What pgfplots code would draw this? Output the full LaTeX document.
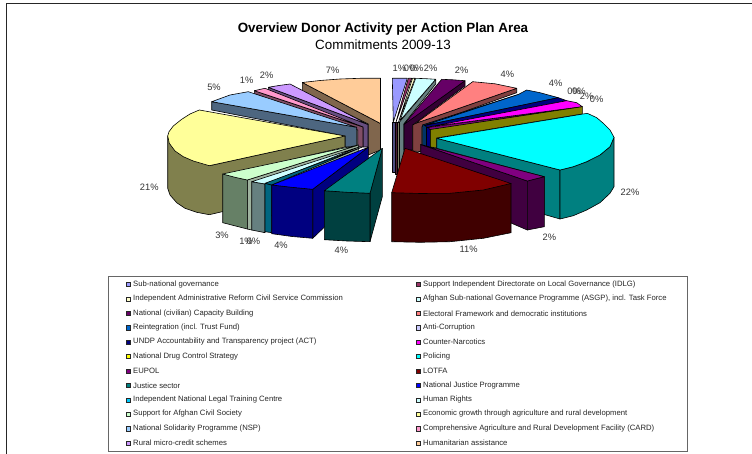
\documentclass[border=0pt]{standalone}
\usepackage{pgfplots}
\usepackage{fontspec}
\setmainfont{Liberation Sans}
\pgfplotsset{compat=1.18}
\definecolor{c1}{HTML}{9999FF}\definecolor{c1s}{HTML}{4D4D80}
\definecolor{c2}{HTML}{993366}\definecolor{c2s}{HTML}{4D1A33}
\definecolor{c3}{HTML}{FFFFCC}\definecolor{c3s}{HTML}{808066}
\definecolor{c4}{HTML}{CCFFFF}\definecolor{c4s}{HTML}{668080}
\definecolor{c5}{HTML}{660066}\definecolor{c5s}{HTML}{330033}
\definecolor{c6}{HTML}{FF8080}\definecolor{c6s}{HTML}{804040}
\definecolor{c7}{HTML}{0066CC}\definecolor{c7s}{HTML}{003366}
\definecolor{c8}{HTML}{CCCCFF}
\definecolor{c9}{HTML}{000080}
\definecolor{c10}{HTML}{FF00FF}\definecolor{c10s}{HTML}{800080}
\definecolor{c11}{HTML}{FFFF00}\definecolor{c11s}{HTML}{808000}
\definecolor{c12}{HTML}{00FFFF}\definecolor{c12s}{HTML}{008080}
\definecolor{c13}{HTML}{800080}\definecolor{c13s}{HTML}{400040}
\definecolor{c14}{HTML}{800000}\definecolor{c14s}{HTML}{400000}
\definecolor{c15}{HTML}{008080}\definecolor{c15s}{HTML}{004040}
\definecolor{c16}{HTML}{0000FF}\definecolor{c16s}{HTML}{000080}
\definecolor{c17}{HTML}{00CCFF}\definecolor{c17s}{HTML}{006680}
\definecolor{c18}{HTML}{CCFFFF}\definecolor{c18s}{HTML}{668080}
\definecolor{c19}{HTML}{CCFFCC}\definecolor{c19s}{HTML}{668066}\definecolor{c19c}{HTML}{9FB39F}
\definecolor{c20}{HTML}{FFFF99}\definecolor{c20s}{HTML}{80804D}
\definecolor{c21}{HTML}{99CCFF}\definecolor{c21s}{HTML}{4D6680}
\definecolor{c22}{HTML}{FF99CC}\definecolor{c22s}{HTML}{804D66}
\definecolor{c23}{HTML}{CC99FF}\definecolor{c23s}{HTML}{664D80}
\definecolor{hsb24}{HTML}{FFCC99}\definecolor{hsb24s}{HTML}{80664D}
\newcommand{\pg}[2]{\addplot[fill=#1,draw=black,line width=0.6pt,line join=round,forget plot] coordinates {#2} --cycle;}
\newcommand{\lab}[3]{\node[font=\fontsize{9.3}{10}\selectfont,text=black!80,inner sep=0pt] at (axis cs:#1,#2) {#3\%};}
\newcommand{\leg}[5]{\addplot[only marks,mark=square*,mark size=2.2pt,mark options={fill=#4,draw=black!85,line width=0.5pt},forget plot] coordinates {(#1,#2)};
\node[anchor=west,font=\fontsize{7.7}{8}\selectfont,text=black!85,inner sep=0pt] at (axis cs:#3,#2) {#5};}
\begin{document}
\begin{tikzpicture}
\begin{axis}[scale only axis,width=752pt,height=454pt,xmin=0,xmax=752,ymin=0,ymax=454,y dir=reverse,hide axis,clip=true]
% page and frame
\addplot[fill=white,draw=none,forget plot] coordinates {(0,0)(752,0)(752,454)(0,454)} --cycle;
\addplot[draw=black!85,line width=1.2pt,forget plot] coordinates {(6.5,454)(6.5,3.5)(752,3.5)};
\addplot[fill=white,draw=black!60,line width=1pt,forget plot] coordinates {(108,277)(687,277)(687,451)(108,451)} --cycle;
% 24 Humanitarian
\pg{hsb24s}{(302.3,82.5)(302.3,91)(368.3,124)(368.3,155)(380.5,150)(380.5,123.5)}
\pg{hsb24}{(302.3,82.5)(320,80.5)(340,79)(360,78.3)(380.5,78.3)(380.5,123.5)}
% 23 Rural micro-credit
\pg{c23s}{(268.3,87.3)(268.3,90)(363,128)(363,147)(368,147)(368,124.5)}
\pg{c23}{(268.3,87.3)(279,85.5)(290,84)(368,124.5)}
% 22 CARD
\pg{c22s}{(254.3,90.7)(254.3,94)(357.7,130)(357.7,147)(363,147)(363,127)}
\pg{c22}{(254.3,90.7)(265,88.3)(363,127)}
% 21 NSP
\pg{c21s}{(211.7,101.7)(211.7,110)(345,136)(345,147)(356.7,147)(356.7,127.3)}
\pg{c21}{(211.7,101.7)(230,95)(248.3,91.7)(356.7,127.3)}
% 20 Economic growth
\pg{c20s}{(167.7,136)(167.7,188.3)(170,195)(176.7,202.7)(185,208.3)(196.7,212.3)(209.3,214.7)(225.3,211)(225.3,175)(345,147)(345,136)(209.3,165.7)}
\pg{c20}{(199.3,110)(190,114)(181.7,119.3)(173.3,126)(169,131.7)(167.7,136)(169.3,143.3)(175,151)(183.3,156.7)(193.3,161)(209.3,165.7)(345,136)}
% 1 Sub-national governance
\pg{c1s}{(392.3,122)(392.3,172)(395,172)(395,122)}
\pg{c1}{(392.3,78.3)(407.3,78.3)(393.3,122)}
% 2 IDLG
\pg{c2s}{(395,122)(395,174)(397,174)(397,122)}
\pg{c2}{(408.3,78.3)(411.7,78.3)(396,122)}
% 3 Admin reform
\pg{c3s}{(397,122)(397,174)(399.5,174)(399.5,122)}
\pg{c3}{(412.5,78.3)(415,78.3)(398.5,122)}
% 4 ASGP
\pg{c4s}{(435.7,79.3)(435.7,84)(403.8,124)(403.8,175)(399.5,175)(399.5,122)}
\pg{c4}{(415.7,78.3)(426,78.7)(435.7,79.3)(400,120.5)}
% 5 Capacity
\pg{c5s}{(465,80.7)(465,86)(412.7,125)(412.7,150)(404,150)(404,124)}
\pg{c5}{(441.7,79.3)(453,79.8)(465,80.7)(404,124.5)}
% 6 Electoral
\pg{c6s}{(516.7,88.3)(516.7,92.7)(421.7,126.7)(421.7,151.7)(412.7,151)(412.7,125)(415.7,123.3)}
\pg{c6}{(472.7,81.7)(495,83.8)(516.7,88.3)(415.7,123.3)}
% 7 Reintegration
\pg{c7s}{(518.3,94.5)(422.3,125)(422.3,147)(426.7,147)(426.7,127)}
\pg{c7}{(518.3,94.5)(526.7,90)(540,92.7)(558.3,97.7)(424,125.5)}
% 8,9 Anti-corruption, UNDP ACT
\pg{c9}{(425,125.5)(558.3,97.7)(566.7,100.7)(427,127.5)}
\pg{c9}{(426.7,127)(426.7,147)(430.3,147)(430.3,127)}
% 10 Counter-narcotics
\pg{c10s}{(428,127.5)(582.3,106.7)(430.3,130)}
\pg{c10}{(428,127)(566.7,100.7)(576.7,102.7)(582.3,106.7)}
% 11 Drug control
\pg{c11s}{(430.3,129.5)(582.3,106.7)(582.3,114)(436.7,138)(436.7,148)(430.3,147)}
% 12 Policing
\pg{c12s}{(436.7,138.3)(436.7,148.3)(544.3,176.7)(544.3,214.5)(560,219)(560,170)}
\pg{c12s}{(560,170)(560,219)(573.3,215.7)(586.7,210)(600,202.7)(610,193.3)(614,186.7)(614,137.3)(610,146.7)(600,155)(586.7,161.7)(573.3,166.7)}
\pg{c12}{(436.7,138.3)(587.3,113.3)(596.7,117.7)(603.3,123.3)(610,130)(614,137.3)(610,146.7)(600,155)(586.7,161.7)(573.3,166.7)(560,170)}
% 13 EUPOL
\pg{c13s}{(420.7,144.5)(527.3,181)(527.3,230)(511,223)(420.7,190)}
\pg{c13s}{(527.3,181)(544.3,176.7)(544.3,226.7)(527.3,230)}
\pg{c13}{(420.7,144.5)(544.3,176.7)(527.3,181)}
% 14 LOTFA
\pg{c14s}{(391.7,192.7)(391.7,241.7)(420,242.3)(450,241.7)(483.3,238.3)(511,232.7)(511,183.5)}
\pg{c14}{(391.7,192.7)(420,193.5)(450,193.3)(483.3,190)(511,183.5)(405,148.3)}
% 19 Civil society
\pg{c19c}{(247.3,180)(358.3,145)(358.3,152)(252,230)(247.3,229)}
\pg{c19s}{(222.7,174)(222.7,222.7)(247.3,229)(247.3,180)}
\pg{c19}{(222.7,174)(235,177.3)(247.3,180)(358.3,145)}
% 18 Human rights
\pg{c18s}{(251.7,181.7)(251.7,230)(265,232.7)(265,184)}
\pg{c18}{(251.7,181.7)(265,184)(360,146.7)}
% 17 Legal training
\pg{c17s}{(265,183.3)(265,231.7)(271.7,232.7)(271.7,185)}
\pg{c17s}{(265,183.3)(271.7,185)(361.7,147.3)}
% 16 National Justice Programme
\pg{c16s}{(312.7,189.3)(368.3,147.3)(368.3,185)(312.7,238.3)}
\pg{c16s}{(271.7,185)(271.7,233.7)(292,236.5)(312.7,238.3)(312.7,189.3)}
\pg{c16}{(271.7,185)(291.7,187.3)(312.7,189.3)(368.3,147.3)}
% 15 Justice sector
\pg{c15s}{(370,193.3)(382.3,148.3)(382.3,196.7)(370,241.7)}
\pg{c15s}{(324.3,190.7)(324.3,239.7)(347,241)(370,241.7)(370,193.3)}
\pg{c15}{(324.3,190.7)(347,192.3)(370,193.3)(382.3,148.3)}
% legend
\leg{128.5}{284.5}{133}{c1}{Sub-national governance}
\leg{418}{284.5}{423}{c2}{Support Independent Directorate on Local Governance (IDLG)}
\leg{128.5}{299}{133}{c3}{Independent Administrative Reform Civil Service Commission}
\leg{418}{299}{423}{c4}{Afghan Sub-national Governance Programme (ASGP), incl. Task Force}
\leg{128.5}{313.3}{133}{c5}{National (civilian) Capacity Building}
\leg{418}{313.3}{423}{c6}{Electoral Framework and democratic institutions}
\leg{128.5}{327.7}{133}{c7}{Reintegration (incl. Trust Fund)}
\leg{418}{327.7}{423}{c8}{Anti-Corruption}
\leg{128.5}{342}{133}{c9}{UNDP Accountability and Transparency project (ACT)}
\leg{418}{342}{423}{c10}{Counter-Narcotics}
\leg{128.5}{356.3}{133}{c11}{National Drug Control Strategy}
\leg{418}{356.3}{423}{c12}{Policing}
\leg{128.5}{371}{133}{c13}{EUPOL}
\leg{418}{371}{423}{c14}{LOTFA}
\leg{128.5}{385.5}{133}{c15}{Justice sector}
\leg{418}{385.5}{423}{c16}{National Justice Programme}
\leg{128.5}{400}{133}{c17}{Independent National Legal Training Centre}
\leg{418}{400}{423}{c18}{Human Rights}
\leg{128.5}{414}{133}{c19}{Support for Afghan Civil Society}
\leg{418}{414}{423}{c20}{Economic growth through agriculture and rural development}
\leg{128.5}{428.7}{133}{c21}{National Solidarity Programme (NSP)}
\leg{418}{428.7}{423}{c22}{Comprehensive Agriculture and Rural Development Facility (CARD)}
\leg{128.5}{443}{133}{c23}{Rural micro-credit schemes}
\leg{418}{443}{423}{hsb24}{Humanitarian assistance}
% titles
\node[font=\fontsize{13.4}{15}\selectfont\bfseries,inner sep=0pt] at (axis cs:383,29) {Overview Donor Activity per Action Plan Area};
\node[font=\fontsize{13.4}{15}\selectfont,inner sep=0pt] at (axis cs:383,45) {Commitments 2009-13};
% data labels
\lab{332.7}{70}{7}\lab{266.7}{75.7}{2}\lab{246.7}{80}{1}\lab{214}{87.7}{5}\lab{149.3}{187.7}{21}
\lab{222}{235.7}{3}\lab{246}{241}{1}\lab{253.3}{241.7}{0}\lab{281}{245.7}{4}\lab{341.3}{250.3}{4}
\lab{399.3}{68.7}{1}\lab{410.7}{68.7}{0}\lab{416.7}{68.7}{0}\lab{430.7}{68.7}{2}\lab{461.7}{70.7}{2}
\lab{507.3}{74.7}{4}\lab{555.7}{83.7}{4}\lab{574}{91}{0}\lab{579}{91}{0}\lab{586.7}{96.7}{2}\lab{596.7}{99.3}{0}
\lab{630}{192.7}{22}\lab{549.3}{237.3}{2}\lab{468.7}{249.3}{11}
\end{axis}
\end{tikzpicture}
\end{document}
